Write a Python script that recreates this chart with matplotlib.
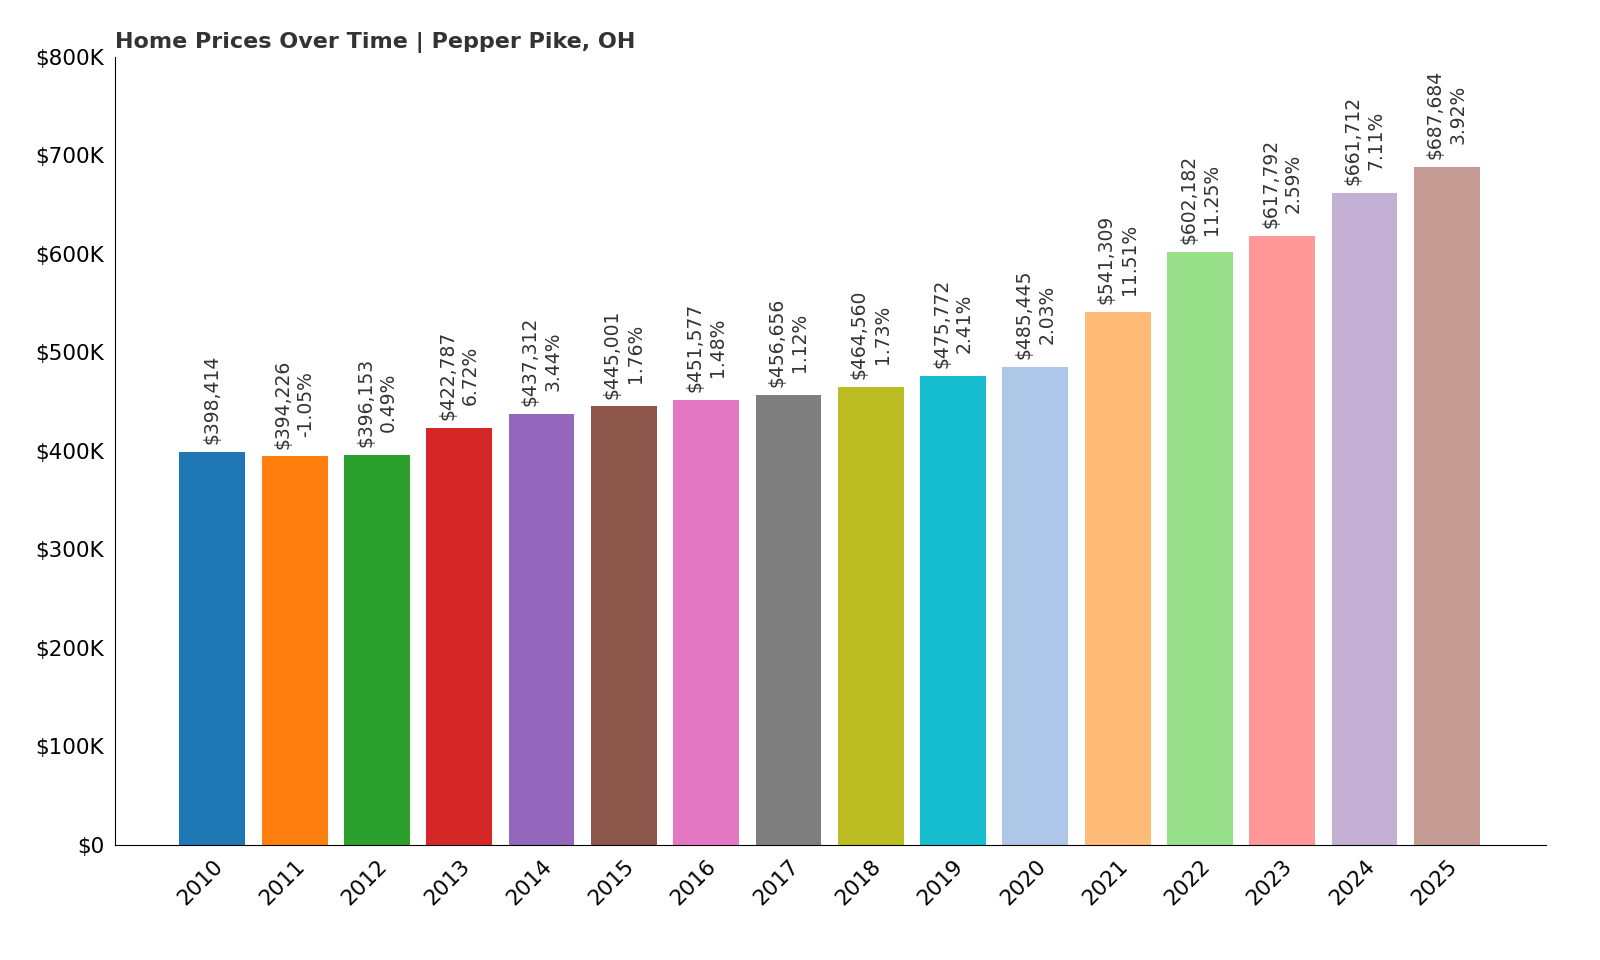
import matplotlib
matplotlib.use("Agg")
import matplotlib.pyplot as plt
from matplotlib.ticker import FuncFormatter

years = ["2010","2011","2012","2013","2014","2015","2016","2017","2018","2019","2020","2021","2022","2023","2024","2025"]
prices = [398414,394226,396153,422787,437312,445001,451577,456656,464560,475772,485445,541309,602182,617792,661712,687684]
changes = [None,-1.05,0.49,6.72,3.44,1.76,1.48,1.12,1.73,2.41,2.03,11.51,11.25,2.59,7.11,3.92]
colors = ["#1f77b4","#ff7f0e","#2ca02c","#d62728","#9467bd","#8c564b","#e377c2","#7f7f7f",
          "#bcbd22","#17becf","#aec7e8","#ffbb78","#98df8a","#ff9896","#c5b0d5","#c49c94"]

fig = plt.figure(figsize=(16, 9.6), dpi=100)
ax = fig.add_axes([0.072, 0.12, 0.894, 0.821])
x = list(range(len(years)))
ax.bar(x, prices, width=0.8, color=colors)
for i, p in enumerate(prices):
    lab = f"${p:,}" if changes[i] is None else f"${p:,}\n{changes[i]:.2f}%"
    ax.text(i, p + 8000, lab, rotation=90, ha="center", va="bottom", fontsize=13.5,
            color="#333333", linespacing=1.25)
ax.set_xlim(-1.18, 16.2)
ax.set_ylim(0, 800000)
ax.set_xticks(x)
ax.set_xticklabels(years, rotation=45, ha="right", rotation_mode="anchor", fontsize=15.5)
ax.yaxis.set_major_formatter(FuncFormatter(lambda v, _: "$0" if v == 0 else f"${int(v/1000)}K"))
ax.tick_params(axis="y", labelsize=15.5, length=0, pad=8)
ax.tick_params(axis="x", length=0, pad=8)
for s in ["top", "right"]:
    ax.spines[s].set_visible(False)
ax.set_title("Home Prices Over Time | Pepper Pike, OH", loc="left", fontsize=16,
             fontweight="bold", color="#333333", pad=6)
fig.savefig("out.png", dpi=100)
